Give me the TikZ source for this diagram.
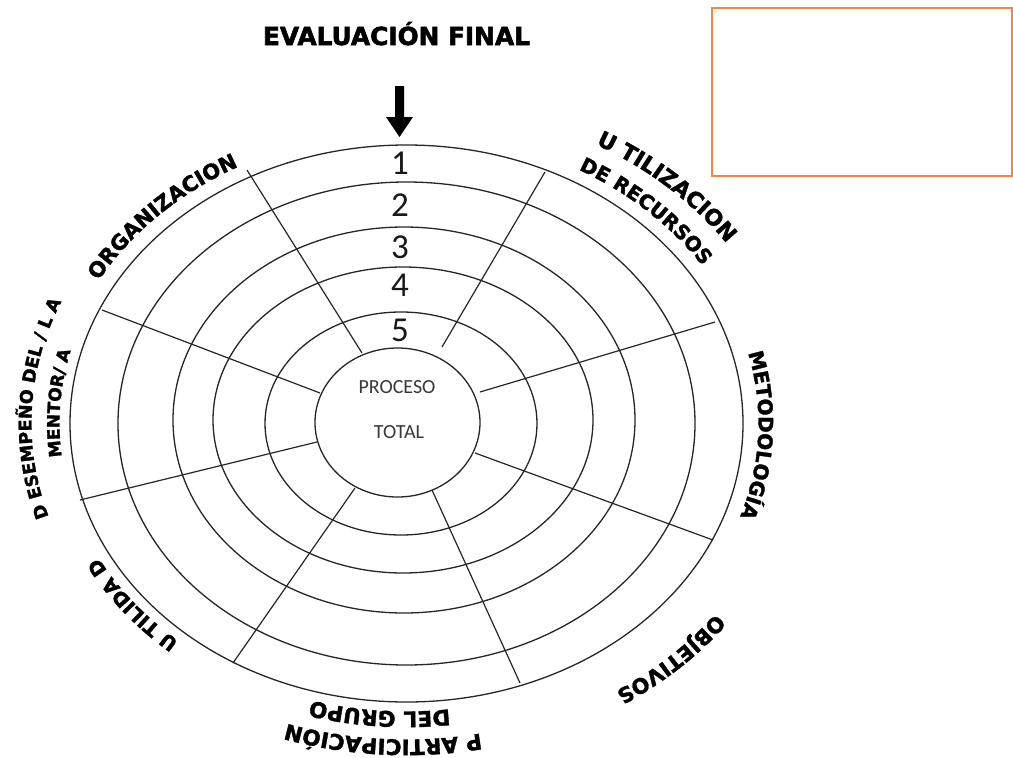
\documentclass[tikz,border=0pt]{standalone}
\usepackage{graphicx}
\usepackage{fontspec}
\setmainfont{Carlito}
\newfontfamily\labfont{DejaVu Sans}[BoldFeatures={FakeBold=1.6}]
\newfontfamily\titlefont{DejaVu Sans}[BoldFeatures={FakeBold=2.2}]
\usetikzlibrary{decorations.text}
\definecolor{boxorange}{RGB}{237,135,70}
% #1 centre angle, #2 x radius, #3 y radius, #4 font size, #5 text
\newcommand\arclab[5]{%
  \path[decorate, decoration={text along path, text align=center,
      text={|\labfont\bfseries\fontsize{#4}{#4}\selectfont|#5}}]
    ([shift={(406.5,-423.5)}]{#1+60}:#2pt and #3pt)
    arc[start angle={#1+60}, end angle={#1-60}, x radius=#2pt, y radius=#3pt];}
\begin{document}
\begin{tikzpicture}[x=1pt,y=1pt,
  ring/.style={draw=black!85, line width=1.3pt},
  spoke/.style={draw=black!85, line width=1.2pt},
  num/.style={inner sep=0pt, font=\fontsize{35}{35}\selectfont, text=black!90},
  inner/.style={inner sep=0pt, font=\fontsize{20}{20}\selectfont, text=black!78}]
\useasboundingbox (0,0) rectangle (1013,-758);
\fill[white] (0,0) rectangle (1013,-758);

% empty orange box
\node[draw=boxorange, line width=2.2pt, minimum width=300pt, minimum height=168pt,
      anchor=north west, inner sep=0pt] (emptybox) at (711,-7) {};

% title
\node[anchor=base, inner sep=0pt] (title) at (396.5,-45)
  {\resizebox{267pt}{23pt}{\titlefont\bfseries EVALUACIÓN FINAL}};
% arrow
\fill[black] (395,-86) -- (404,-86) -- (404,-117) -- (413,-117) -- (399.5,-137)
  -- (386,-117) -- (395,-117) -- cycle;

% rings
\draw[ring] (406.5,-423.5) ellipse[x radius=336.5pt, y radius=278.5pt];
\draw[ring] (406.5,-423.5) ellipse[x radius=288.5pt, y radius=241.5pt];
\draw[ring] (404,-420) ellipse[x radius=231pt, y radius=193pt];
\draw[ring] (403,-420) ellipse[x radius=190pt, y radius=153pt];
\draw[ring] (401,-423.5) ellipse[x radius=136pt, y radius=111.5pt];
\draw[ring] (397.5,-422.5) ellipse[x radius=82.5pt, y radius=74.5pt];

% spokes
\draw[spoke] (362,-353) -- (247,-170);
\draw[spoke] (442,-347) -- (545,-172);
\draw[spoke] (480,-392) -- (715,-322);
\draw[spoke] (475,-453) -- (713,-540);
\draw[spoke] (432,-490) -- (520,-683);
\draw[spoke] (355,-488) -- (233,-663);
\draw[spoke] (317,-442) -- (80,-500);
\draw[spoke] (320,-393) -- (102,-310);

% numbers
\node[num] (n1) at (400,-163) {1};
\node[num] (n2) at (400,-205) {2};
\node[num] (n3) at (400,-247) {3};
\node[num] (n4) at (400,-285) {4};
\node[num] (n5) at (400,-330) {5};

% centre text
\node[inner] (proceso) at (397,-387) {PROCESO};
\node[inner] (total) at (399,-432) {TOTAL};

% curved labels
\arclab{138.2}{353}{292}{21}{ORGANIZACION}
\arclab{43.7}{387}{320}{22}{U TILIZACION}
\arclab{43}{352}{291}{20}{DE RECURSOS}
\arclab{-2}{352}{291}{20}{METODOLOGÍA}
\arclab{-43}{385}{319}{21}{OBJETIVOS}
\arclab{-94}{382}{316}{21.5}{P ARTICIPACIÓN}
\arclab{-95}{348}{288}{21.5}{DEL GRUPO}
\arclab{214.7}{348}{288}{19.5}{U TILIDA D}
\arclab{177.5}{375}{311}{17.5}{D ESEMPEÑO DEL / L A}
\arclab{176.5}{347}{287}{17}{MENTOR/ A}
\end{tikzpicture}
\end{document}
